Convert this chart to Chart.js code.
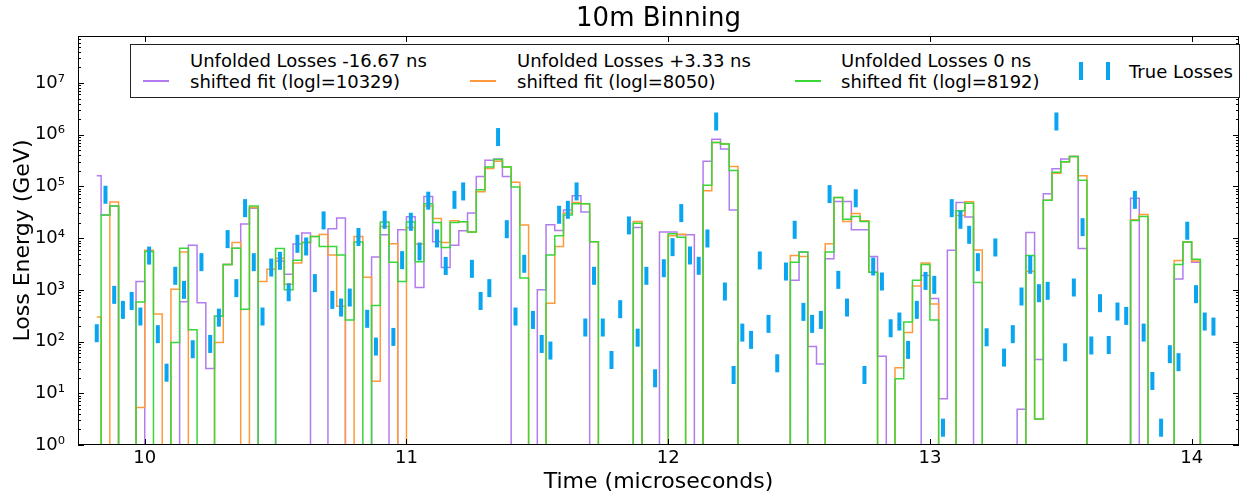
<!DOCTYPE html>
<html>
<head>
<meta charset="utf-8">
<title>10m Binning</title>
<script src="https://cdn.jsdelivr.net/npm/chart.js@4.4.0/dist/chart.umd.min.js"></script>
<style>
  html, body { margin: 0; padding: 0; background: #fff; }
  #wrap { position: relative; width: 1252px; height: 496px; }
  #legend { position: absolute; left: 130px; top: 44px; width: 1110px; height: 54px;
            box-sizing: border-box; border: 1px solid #222; background: #fff;
            font-family: 'DejaVu Sans', sans-serif; font-size: 18px; color: #000; }
  #legend .sw { position: absolute; height: 2px; width: 26px; }
  #legend .bar { position: absolute; width: 4px; height: 18px; background: #0aa5f0; }
  #legend .tx { position: absolute; line-height: 21px; white-space: nowrap; }
</style>
</head>
<body>
<div id="wrap">
  <canvas id="chart" width="1252" height="496"></canvas>
  <div id="legend">
    <div class="sw" style="left:12px; top:35px; background:#b27cf0"></div>
    <div class="tx" style="left:59px; top:5px">Unfolded Losses -16.67 ns<br>shifted fit (logl=10329)</div>
    <div class="sw" style="left:339px; top:35px; background:#ff9a3c"></div>
    <div class="tx" style="left:386px; top:5px">Unfolded Losses +3.33 ns<br>shifted fit (logl=8050)</div>
    <div class="sw" style="left:664px; top:35px; background:#3ad63a"></div>
    <div class="tx" style="left:710px; top:5px">Unfolded Losses 0 ns<br>shifted fit (logl=8192)</div>
    <div class="bar" style="left:948px; top:17px"></div>
    <div class="bar" style="left:975px; top:17px"></div>
    <div class="tx" style="left:998px; top:16px">True Losses</div>
  </div>
</div>
<script>
// 33.3 ns bins (10 m), values are bin centres in microseconds
const binStart = 9.81667;
const binWidth = 1 / 30;

// Loss energy per bin (GeV), 0 = empty bin
const purpleLoss = [
  1.6e5, 2.8e4, 4.2e4, 0, 0, 1450, 0, 0, 0, 0,
  590, 7300, 560, 30, 310, 3100, 6400, 1.87e4, 3.8e4, 0,
  0, 3600, 2000, 7700, 1.25e4, 0, 0, 1.52e4, 2.44e4, 0,
  0, 0, 4300, 1.16e4, 0, 1.45e4, 2.6e4, 1110, 6.4e4, 8500,
  2700, 7300, 1.39e4, 3.05e4, 1.56e5, 3.2e5, 3.4e5, 1.56e5, 0, 0,
  0, 1000, 1.81e4, 1.41e4, 3.5e4, 6.6e4, 3.2e4, 0, 0, 0,
  0, 0, 1.61e4, 0, 0, 1.31e4, 1.31e4, 1.16e4, 1.16e4, 0,
  3.05e5, 8.2e5, 5.3e5, 3.5e4, 0, 0, 0, 0, 0, 0,
  1540, 5400, 80, 37, 4000, 5.1e4, 5.1e4, 1.45e4, 1.45e4, 4400,
  52, 0, 0, 0, 0, 1900, 680, 7.8, 5800, 4.9e4,
  2.55e4, 0, 0, 0, 0, 0, 4.9, 1.29e4, 45, 7.2e4,
  2.2e5, 3.4e5, 3.8e5, 6300, 0, 0, 0, 0, 0, 5.9e4,
  0, 0, 0, 0, 1630, 8400, 3400, 0, 0
];
const orangeLoss = [
  300, 0, 5.0e4, 0, 0, 5.3, 5800, 340, 0, 1030,
  5400, 0, 0, 0, 96, 3100, 8200, 0, 3.9e4, 1450,
  2500, 4100, 1290, 3300, 8200, 1.08e4, 1.18e4, 4700, 480, 0,
  1.08e4, 1760, 17, 1.68e4, 7800, 0, 1.6e4, 7700, 4.2e4, 2.4e4,
  8200, 2.16e4, 2.07e4, 1.31e4, 7.9e4, 2.23e5, 3.05e5, 2.37e5, 1.21e5, 1.79e4,
  0, 0, 550, 6900, 3.05e4, 4.9e4, 4.6e4, 8500, 0, 0,
  0, 0, 2.1e4, 0, 0, 0, 1.11e4, 1.19e4, 0, 0,
  8.2e4, 7.1e5, 6.6e5, 2.44e5, 0, 0, 0, 0, 0, 0,
  4600, 4400, 0, 0, 7800, 6.1e4, 2.1e4, 3.0e4, 2.16e4, 2200,
  0, 0, 31, 150, 1190, 3300, 530, 0, 0, 2.75e4,
  5.05e4, 5900, 0, 0, 0, 0, 0, 2300, 3.2, 5.4e4,
  1.79e5, 2.96e5, 3.8e5, 1.6e5, 0, 0, 0, 0, 0, 2.26e4,
  2.87e4, 0, 0, 0, 3700, 8400, 3600, 0, 0
];
const greenLoss = [
  0, 2.8e4, 4.2e4, 0, 0, 580, 5500, 0, 0, 96,
  6400, 170, 0, 0, 310, 3100, 6400, 420, 4.2e4, 0,
  0, 6300, 1010, 3750, 8200, 1.08e4, 6900, 6900, 4700, 260,
  8400, 0, 500, 2.04e4, 3400, 1450, 2.04e4, 3500, 4.6e4, 2.0e4,
  6600, 2.0e4, 2.07e4, 1.31e4, 8.6e4, 2.37e5, 3.3e5, 2.37e5, 9.7e4, 1700,
  0, 0, 4700, 1.11e4, 2.79e4, 4.6e4, 4.6e4, 8500, 0, 0,
  0, 0, 1.95e4, 0, 0, 0, 1.21e4, 1.04e4, 0, 0,
  1.05e5, 7.1e5, 6.6e5, 2.04e5, 0, 0, 0, 0, 0, 0,
  3400, 5400, 0, 0, 5400, 6.1e4, 2.33e4, 2.63e4, 2.1e4, 2200,
  0, 0, 19, 240, 1540, 3100, 260, 0, 0, 3.4e4,
  4.75e4, 1390, 0, 0, 0, 0, 0, 4600, 3.2, 5.4e4,
  1.87e5, 3.0e5, 3.8e5, 1.31e5, 0, 0, 0, 0, 0, 2.2e4,
  2.63e4, 0, 0, 0, 3100, 8400, 3900, 0, 0
];
const trueLoss = [
  145, 6.9e4, 800, 410, 610, 305, 4600, 139, 25, 1870,
  1000, 71, 3430, 90, 290, 9570, 1080, 3.8e4, 3430, 305,
  2700, 3640, 900, 7770, 6900, 1350, 2.2e4, 640, 455, 710,
  1.05e4, 275, 80, 2.26e4, 123, 3750, 2.07e4, 5520, 5.3e4, 9850,
  2900, 5.5e4, 8.0e4, 2550, 610, 1080, 9.0e5, 1.49e4, 305, 3190,
  262, 90, 67, 2.83e4, 3.53e4, 8.0e4, 187, 1870, 187, 44,
  423, 1.76e4, 119, 1870, 19.5, 2620, 6700, 3.05e4, 4620, 2915,
  9850, 1.8e6, 929, 22.6, 149, 108, 3700, 220, 38, 2260,
  1.45e4, 375, 220, 262, 7.1e4, 1560, 455, 5.9e4, 22.6, 2830,
  1450, 181, 244, 69, 410, 1490, 1250, 2.16, 3.8e4, 2.26e4,
  1.16e4, 3430, 121, 6600, 49, 139, 743, 3050, 861, 957,
  1.8e6, 62, 1110, 1.63e4, 84, 552, 86, 381, 314, 5.5e4,
  149, 17.3, 2.16, 57, 40, 1.39e4, 825, 244, 195
];

const chartTitle = '10m Binning';
const xTicks = [10, 11, 12, 13, 14];
const yTicks = [1, 10, 100, 1e3, 1e4, 1e5, 1e6, 1e7];
const yTickLabels = ['10⁰', '10¹', '10²', '10³', '10⁴', '10⁵', '10⁶', '10⁷'];

const times = trueLoss.map((_, j) => binStart + j * binWidth);
// empty bins drop below the log axis
const steps = vals => vals.map((v, j) => ({ x: times[j], y: v > 0 ? v : 1e-3 }));

// matplotlib-like frame: box, inward ticks on all four sides, title over the plot area
const axesFrame = {
  id: 'axesFrame',
  afterDraw(chart) {
    const { ctx, chartArea: a, scales: { x, y } } = chart;
    ctx.save();
    ctx.strokeStyle = '#000';
    ctx.lineWidth = 1;
    ctx.beginPath();
    xTicks.forEach(v => {
      const px = Math.round(x.getPixelForValue(v)) + 0.5;
      ctx.moveTo(px, a.bottom); ctx.lineTo(px, a.bottom - 6);
      ctx.moveTo(px, a.top); ctx.lineTo(px, a.top + 6);
    });
    yTicks.forEach(d => {
      for (let m = 1; m < 10; m++) {
        const v = m * d;
        if (v > y.max) break;
        const py = Math.round(y.getPixelForValue(v)) + 0.5;
        const len = m === 1 ? 6 : 3;
        ctx.moveTo(a.left, py); ctx.lineTo(a.left + len, py);
        ctx.moveTo(a.right, py); ctx.lineTo(a.right - len, py);
      }
    });
    ctx.stroke();
    ctx.strokeRect(a.left + 0.5, a.top + 0.5, a.right - a.left - 1, a.bottom - a.top - 1);

    ctx.fillStyle = '#000';
    ctx.font = "26px 'DejaVu Sans', sans-serif";
    ctx.textAlign = 'center';
    ctx.textBaseline = 'middle';
    ctx.fillText(chartTitle, (a.left + a.right) / 2, 19);
    ctx.restore();
  }
};

Chart.defaults.font.family = "'DejaVu Sans', sans-serif";
Chart.defaults.color = '#000';

const stepLine = (vals, color, order) => ({
  data: steps(vals),
  stepped: 'middle',
  borderColor: color,
  borderWidth: 1.5,
  pointRadius: 0,
  fill: false,
  order: order
});

new Chart(document.getElementById('chart'), {
  type: 'line',
  data: {
    datasets: [
      {
        type: 'scatter',
        label: 'True Losses',
        data: trueLoss.map((v, j) => ({ x: times[j], y: v })),
        pointStyle: 'line',
        pointRotation: 90,
        pointRadius: 9,
        pointHoverRadius: 9,
        pointBorderWidth: 4,
        pointBorderColor: '#0aa5f0',
        pointBackgroundColor: '#0aa5f0',
        order: 0
      },
      Object.assign({ label: 'Unfolded Losses 0 ns' }, stepLine(greenLoss, '#3ad63a', 1)),
      Object.assign({ label: 'Unfolded Losses +3.33 ns' }, stepLine(orangeLoss, '#ff9a3c', 2)),
      Object.assign({ label: 'Unfolded Losses -16.67 ns' }, stepLine(purpleLoss, '#b27cf0', 3))
    ]
  },
  options: {
    responsive: false,
    animation: false,
    devicePixelRatio: 1,
    layout: { padding: { left: 0, right: 4, top: 36, bottom: 0 } },
    plugins: {
      legend: { display: false },
      tooltip: { enabled: false },
      title: { display: false }
    },
    scales: {
      x: {
        type: 'linear',
        min: 9.745,
        max: 14.181,
        grid: { display: false, drawTicks: false },
        border: { display: false },
        ticks: { font: { size: 18 }, padding: 3, maxRotation: 0 },
        afterBuildTicks: s => { s.ticks = xTicks.map(v => ({ value: v })); },
        afterFit: s => { s.height = 51; },
        title: { display: true, text: 'Time (microseconds)', font: { size: 22 }, padding: { top: 0, bottom: 1 } }
      },
      y: {
        type: 'logarithmic',
        min: 1,
        max: 8.1e7,
        grid: { display: false, drawTicks: false },
        border: { display: false },
        ticks: { font: { size: 18 }, padding: 13, autoSkip: false, callback: (v, i) => yTickLabels[i] },
        afterBuildTicks: s => { s.ticks = yTicks.map(v => ({ value: v })); },
        afterFit: s => { s.width = 78; },
        title: { display: true, text: 'Loss Energy (GeV)', font: { size: 22 }, padding: { top: 10, bottom: 0 } }
      }
    }
  },
  plugins: [axesFrame]
});
</script>
</body>
</html>
